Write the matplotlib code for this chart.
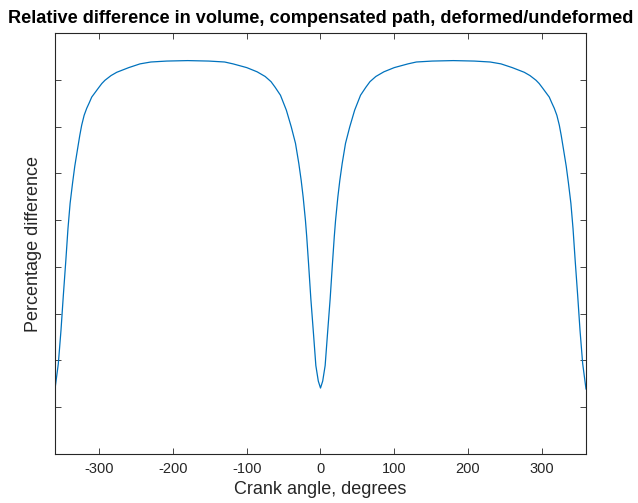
import matplotlib
matplotlib.use("Agg")
import matplotlib.pyplot as plt
import numpy as np

plt.rcParams['font.family'] = ['Liberation Sans', 'DejaVu Sans']
plt.rcParams['axes.unicode_minus'] = False

# crank angle (degrees) and relative volume difference
angle = [-360, -355.5, -351.9, -348.7, -345.3, -342.4, -339.5, -336.2, -333.2,
         -329.2, -326.4, -323.8, -320.5, -317.0, -313.5, -310.2, -305.5, -301.3,
         -296.5, -292.2, -284.0, -276.3, -260.0, -244.7, -230.0, -208.5, -180,
         -151.5, -130.0, -118.6, -100.0, -85.9, -75.0, -67.1, -61.5, -54.3, -46.3,
         -39.6, -33.9, -29.4, -26.2, -23.5, -20.4, -18.7, -16.2, -13.1, -9.5, -6.3,
         -3.0, 0,
         3.0, 6.3, 9.5, 13.1, 16.2, 18.7, 20.4, 23.5, 26.2, 29.4, 33.9, 39.6,
         46.3, 54.3, 61.5, 67.1, 75.0, 85.9, 100.0, 118.6, 130.0, 151.5, 180,
         208.5, 230.0, 244.7, 260.0, 276.3, 284.0, 292.2, 296.5, 301.3, 305.5,
         310.2, 313.5, 317.0, 320.5, 323.8, 326.4, 329.2, 333.2, 336.2, 339.5,
         342.4, 345.3, 348.7, 351.9, 355.5, 360]
diff = [-0.761, -0.707, -0.636, -0.561, -0.486, -0.418, -0.364, -0.321, -0.285,
        -0.246, -0.219, -0.197, -0.176, -0.161, -0.149, -0.137, -0.127, -0.118,
        -0.108, -0.101, -0.091, -0.084, -0.074, -0.066, -0.062, -0.060, -0.059,
        -0.060, -0.062, -0.066, -0.074, -0.083, -0.093, -0.104, -0.116, -0.133, -0.165,
        -0.201, -0.236, -0.279, -0.315, -0.351, -0.401, -0.435, -0.493, -0.568, -0.643, -0.711,
        -0.744, -0.759,
        -0.744, -0.711, -0.643, -0.568, -0.493, -0.435, -0.401, -0.351, -0.315, -0.279, -0.236, -0.201,
        -0.165, -0.133, -0.116, -0.104, -0.093, -0.083, -0.074, -0.066, -0.062, -0.060, -0.059,
        -0.060, -0.062, -0.066, -0.074, -0.084, -0.091, -0.101, -0.108, -0.118, -0.127,
        -0.137, -0.149, -0.161, -0.176, -0.197, -0.219, -0.246, -0.285, -0.321, -0.364,
        -0.418, -0.486, -0.561, -0.636, -0.707, -0.761]

xticks = [-300, -200, -100, 0, 100, 200, 300]
yticks = [-0.8, -0.7, -0.6, -0.5, -0.4, -0.3, -0.2, -0.1]

axis_col = '#262626'

fig = plt.figure(figsize=(6.38, 5.03), dpi=100)
ax = fig.add_axes([0.0862, 0.0974, 0.8323, 0.837])

ax.plot(angle, diff, color='#0072BD', lw=0.9)

ax.set_xlim(-360, 360)
ax.set_ylim(-0.9, 0)
ax.set_xticks(xticks)
ax.set_yticks(yticks)
ax.set_yticklabels([])
ax.tick_params(direction='in', length=4.5, width=0.6, colors=axis_col,
               top=True, right=True, labelsize=10.5, pad=6)
for s in ax.spines.values():
    s.set_color(axis_col)
    s.set_linewidth(0.8)

ax.set_xlabel('Crank angle, degrees', fontsize=13, color=axis_col, labelpad=3)
ax.set_ylabel('Percentage difference', fontsize=13, color=axis_col, labelpad=3.5)
ax.set_title('Relative difference in volume, compensated path, deformed/undeformed',
             fontsize=13.1, fontweight='bold', pad=7)

fig.savefig('out.png', dpi=100)
